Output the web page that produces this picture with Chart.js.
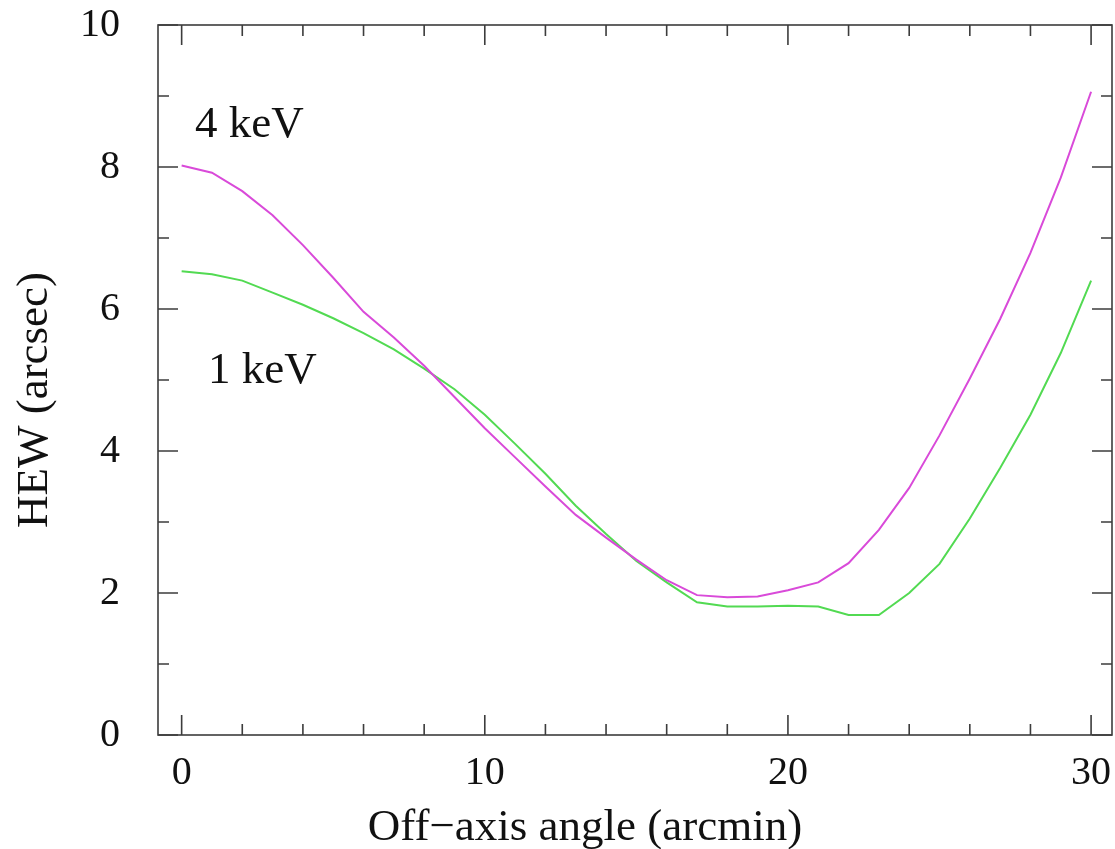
<!DOCTYPE html>
<html>
<head>
<meta charset="utf-8">
<title>HEW vs off-axis angle</title>
<script src="https://cdn.jsdelivr.net/npm/chart.js@4/dist/chart.umd.min.js"></script>
<style>
  html, body { margin: 0; padding: 0; background: #fff; }
  #wrap { width: 1115px; height: 849px; }
</style>
</head>
<body>
<div id="wrap"><canvas id="hew" width="1115" height="849"></canvas></div>
<script>
// off-axis angle in arcmin, HEW in arcsec
const angles = [0, 1, 2, 3, 4, 5, 6, 7, 8, 9, 10, 11, 12, 13, 14, 15,
                16, 17, 18, 19, 20, 21, 22, 23, 24, 25, 26, 27, 28, 29, 30];
const hew4keV = [8.02, 7.92, 7.66, 7.32, 6.90, 6.44, 5.96, 5.60, 5.20, 4.76, 4.32,
                 3.91, 3.50, 3.10, 2.78, 2.47, 2.18, 1.97, 1.94, 1.95, 2.04, 2.15,
                 2.42, 2.89, 3.48, 4.22, 5.02, 5.86, 6.79, 7.85, 9.06];
const hew1keV = [6.53, 6.49, 6.40, 6.23, 6.06, 5.87, 5.66, 5.43, 5.16, 4.87, 4.51,
                 4.10, 3.68, 3.23, 2.83, 2.45, 2.15, 1.87, 1.81, 1.81, 1.82, 1.81,
                 1.69, 1.69, 2.00, 2.41, 3.05, 3.76, 4.51, 5.38, 6.40];

const xMajor = [0, 10, 20, 30];
const yMajor = [0, 2, 4, 6, 8, 10];
const xTitle = 'Off\u2212axis angle (arcmin)';
const yTitle = 'HEW (arcsec)';
const notes = [
  { text: '4 keV', x: 0.44, y: 8.42 },
  { text: '1 keV', x: 0.87, y: 4.96 },
];

const SERIF = '"Liberation Serif", "Times New Roman", Times, serif';
const INK = '#111';
const AXIS = '#3c3c3c';

// boxed frame with inward ticks on all four sides, axis titles and energy labels
const framePlugin = {
  id: 'frame',
  afterDatasetsDraw(chart) {
    const { ctx, chartArea: a, scales: { x, y } } = chart;
    ctx.save();
    ctx.strokeStyle = AXIS;
    ctx.lineWidth = 1.6;
    ctx.strokeRect(a.left, a.top, a.right - a.left, a.bottom - a.top);
    ctx.beginPath();
    x.ticks.forEach(t => {
      const px = x.getPixelForValue(t.value);
      const len = xMajor.includes(t.value) ? 20 : 11;
      ctx.moveTo(px, a.bottom); ctx.lineTo(px, a.bottom - len);
      ctx.moveTo(px, a.top); ctx.lineTo(px, a.top + len);
    });
    y.ticks.forEach(t => {
      const py = y.getPixelForValue(t.value);
      const len = yMajor.includes(t.value) ? 20 : 11;
      ctx.moveTo(a.left, py); ctx.lineTo(a.left + len, py);
      ctx.moveTo(a.right, py); ctx.lineTo(a.right - len, py);
    });
    ctx.stroke();

    ctx.fillStyle = INK;
    ctx.font = '45px ' + SERIF;
    ctx.textAlign = 'left';
    ctx.textBaseline = 'alphabetic';
    notes.forEach(n => ctx.fillText(n.text, x.getPixelForValue(n.x), y.getPixelForValue(n.y)));

    // axis titles sit a little off the plot centre
    ctx.textAlign = 'center';
    ctx.textBaseline = 'middle';
    ctx.fillText(xTitle, (a.left + a.right) / 2 - 50, a.bottom + 93);
    ctx.translate(35, (a.top + a.bottom) / 2 + 20);
    ctx.rotate(-Math.PI / 2);
    ctx.fillText(yTitle, 0, 0);
    ctx.restore();
  },
};

const toPoints = vals => vals.map((v, i) => ({ x: angles[i], y: v }));

new Chart(document.getElementById('hew'), {
  type: 'line',
  data: {
    datasets: [
      { label: '4 keV', data: toPoints(hew4keV), borderColor: '#d94ad9', borderWidth: 2,
        pointRadius: 0, tension: 0, fill: false },
      { label: '1 keV', data: toPoints(hew1keV), borderColor: '#52da52', borderWidth: 2,
        pointRadius: 0, tension: 0, fill: false },
    ],
  },
  options: {
    responsive: false,
    animation: false,
    layout: { padding: { top: 25, right: 3, left: 0, bottom: 0 } },
    plugins: { legend: { display: false }, tooltip: { enabled: false } },
    scales: {
      x: {
        type: 'linear',
        min: -0.78,
        max: 30.69,
        grid: { display: false },
        border: { display: false },
        ticks: {
          stepSize: 2,
          includeBounds: false,
          autoSkip: false,
          maxRotation: 0,
          padding: 6,
          color: INK,
          font: { family: SERIF, size: 40 },
          callback: v => (xMajor.includes(v) ? String(v) : ''),
        },
        afterFit: s => {
          s.height = 114;
          s.paddingLeft = 0;
          s.paddingRight = 0;
        },
      },
      y: {
        type: 'linear',
        min: 0,
        max: 10,
        grid: { display: false },
        border: { display: false },
        ticks: {
          stepSize: 1,
          autoSkip: false,
          padding: 30,
          color: INK,
          font: { family: SERIF, size: 40 },
          callback: v => (yMajor.includes(v) ? String(v) : ''),
        },
        afterFit: s => {
          s.width = 158;
          s.paddingTop = 0;
          s.paddingBottom = 0;
        },
      },
    },
  },
  plugins: [framePlugin],
});
</script>
</body>
</html>
